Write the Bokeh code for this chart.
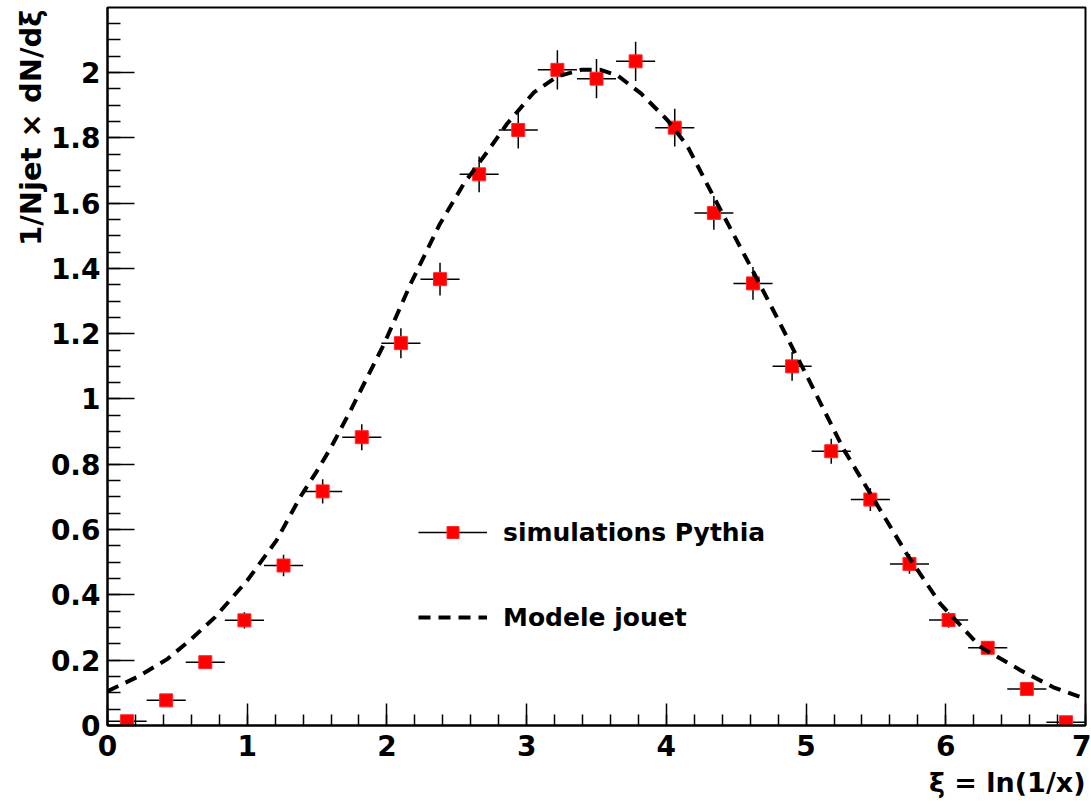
from bokeh.plotting import figure
from bokeh.models import (Range1d, SingleIntervalTicker, CustomJSTickFormatter, Title,
                          Legend, LegendItem, ColumnDataSource)
from bokeh.embed import file_html
from bokeh.resources import INLINE

# ---- data ----
xi_centers = [0.14, 0.42, 0.70, 0.98, 1.26, 1.54, 1.82, 2.10, 2.38, 2.66, 2.94, 3.22, 3.50,
              3.78, 4.06, 4.34, 4.62, 4.90, 5.18, 5.46, 5.74, 6.02, 6.30, 6.58, 6.86]
pythia_vals = [0.013, 0.077, 0.194, 0.322, 0.490, 0.717, 0.883, 1.171, 1.367, 1.688, 1.824, 2.008, 1.981,
               2.034, 1.831, 1.570, 1.354, 1.100, 0.840, 0.692, 0.495, 0.323, 0.238, 0.112, 0.010]
pythia_errs = [0.005, 0.010, 0.018, 0.025, 0.033, 0.037, 0.040, 0.046, 0.050, 0.055, 0.057, 0.060, 0.060,
               0.060, 0.058, 0.052, 0.050, 0.044, 0.038, 0.035, 0.030, 0.024, 0.020, 0.014, 0.005]
bin_half_width = 0.14

model_x = [0.0, 0.22, 0.43, 0.6, 0.77, 1.0, 1.21, 1.38, 1.5, 1.6, 1.74, 1.98, 2.17, 2.38, 2.55, 2.72,
           2.86, 3.05, 3.22, 3.39, 3.53, 3.65, 3.82, 4.01, 4.15, 4.34, 4.58, 4.79, 5.01, 5.27, 5.49,
           5.72, 5.96, 6.25, 6.54, 6.77, 7.0]
model_y = [0.105, 0.150, 0.204, 0.265, 0.332, 0.444, 0.567, 0.700, 0.780, 0.852, 0.965, 1.169, 1.353,
           1.537, 1.659, 1.758, 1.843, 1.938, 1.988, 2.008, 2.008, 1.991, 1.935, 1.853, 1.775, 1.618,
           1.424, 1.251, 1.067, 0.845, 0.689, 0.526, 0.373, 0.240, 0.168, 0.117, 0.082]

x_title = "ξ = ln(1/x)"
y_title = "1/Njet × dN/dξ"
legend_labels = ["simulations Pythia", "Modele jouet"]

src = ColumnDataSource(dict(
    x=xi_centers, y=pythia_vals,
    xl=[x - bin_half_width for x in xi_centers], xr=[x + bin_half_width for x in xi_centers],
    yl=[v - e for v, e in zip(pythia_vals, pythia_errs)], yh=[v + e for v, e in zip(pythia_vals, pythia_errs)],
))

FONT = "DejaVu Sans"

p = figure(width=1091, height=804, x_range=Range1d(0, 7), y_range=Range1d(0, 2.199),
           output_backend="svg", toolbar_location=None,
           min_border_left=107, min_border_right=6, min_border_top=7, min_border_bottom=79)
p.xgrid.grid_line_color = None
p.ygrid.grid_line_color = None
p.outline_line_color = "black"
p.outline_line_width = 2
p.background_fill_color = "white"
p.border_fill_color = "white"

p.xaxis.ticker = SingleIntervalTicker(interval=1, num_minor_ticks=5)
p.yaxis.ticker = SingleIntervalTicker(interval=0.2, num_minor_ticks=4)
fmt = "return String(Math.round(tick*10)/10);"
p.xaxis.formatter = CustomJSTickFormatter(code=fmt)
p.yaxis.formatter = CustomJSTickFormatter(code=fmt)
for ax in (p.xaxis[0], p.yaxis[0]):
    ax.major_tick_out = 0
    ax.minor_tick_out = 0
    ax.axis_line_width = 2
    ax.axis_line_color = "black"
    ax.major_tick_line_width = 1.5
    ax.minor_tick_line_width = 1.5
    ax.major_tick_line_color = "black"
    ax.minor_tick_line_color = "black"
    ax.major_label_text_font = FONT
    ax.major_label_text_font_style = "bold"
    ax.major_label_text_font_size = "28px"
    ax.major_label_text_color = "black"
p.xaxis.major_tick_in = 22
p.xaxis.minor_tick_in = 11
p.yaxis.major_tick_in = 27
p.yaxis.minor_tick_in = 13
p.xaxis.major_label_standoff = 9
p.yaxis.major_label_standoff = 7

h = p.segment(x0="xl", y0="y", x1="xr", y1="y", source=src, line_color="black", line_width=1.5)
v = p.segment(x0="x", y0="yl", x1="x", y1="yh", source=src, line_color="black", line_width=1.5)
sq = p.scatter("x", "y", source=src, marker="square", size=13, fill_color="#ff0000",
               line_color="#ff2a2a", line_width=1)
curve = p.line(model_x, model_y, line_color="black", line_width=4, line_dash="12 8")

legend = Legend(items=[LegendItem(label=legend_labels[0], renderers=[h, sq]),
                       LegendItem(label=legend_labels[1], renderers=[curve])],
                location=(311, 93), glyph_width=69, glyph_height=30, label_height=30,
                spacing=55, padding=0, margin=0, label_standoff=16,
                border_line_alpha=0, background_fill_alpha=0,
                label_text_font=FONT, label_text_font_style="bold", label_text_font_size="25px",
                label_text_color="black")
p.add_layout(legend)

p.add_layout(Title(text=x_title, align="right", offset=0, standoff=12,
                   text_font=FONT, text_font_style="bold", text_font_size="27px",
                   text_color="black"), "below")
p.add_layout(Title(text=y_title, align="right", offset=2, standoff=0,
                   text_font=FONT, text_font_style="bold", text_font_size="29px",
                   text_color="black"), "left")

open("out.html", "w").write(file_html(p, INLINE))
